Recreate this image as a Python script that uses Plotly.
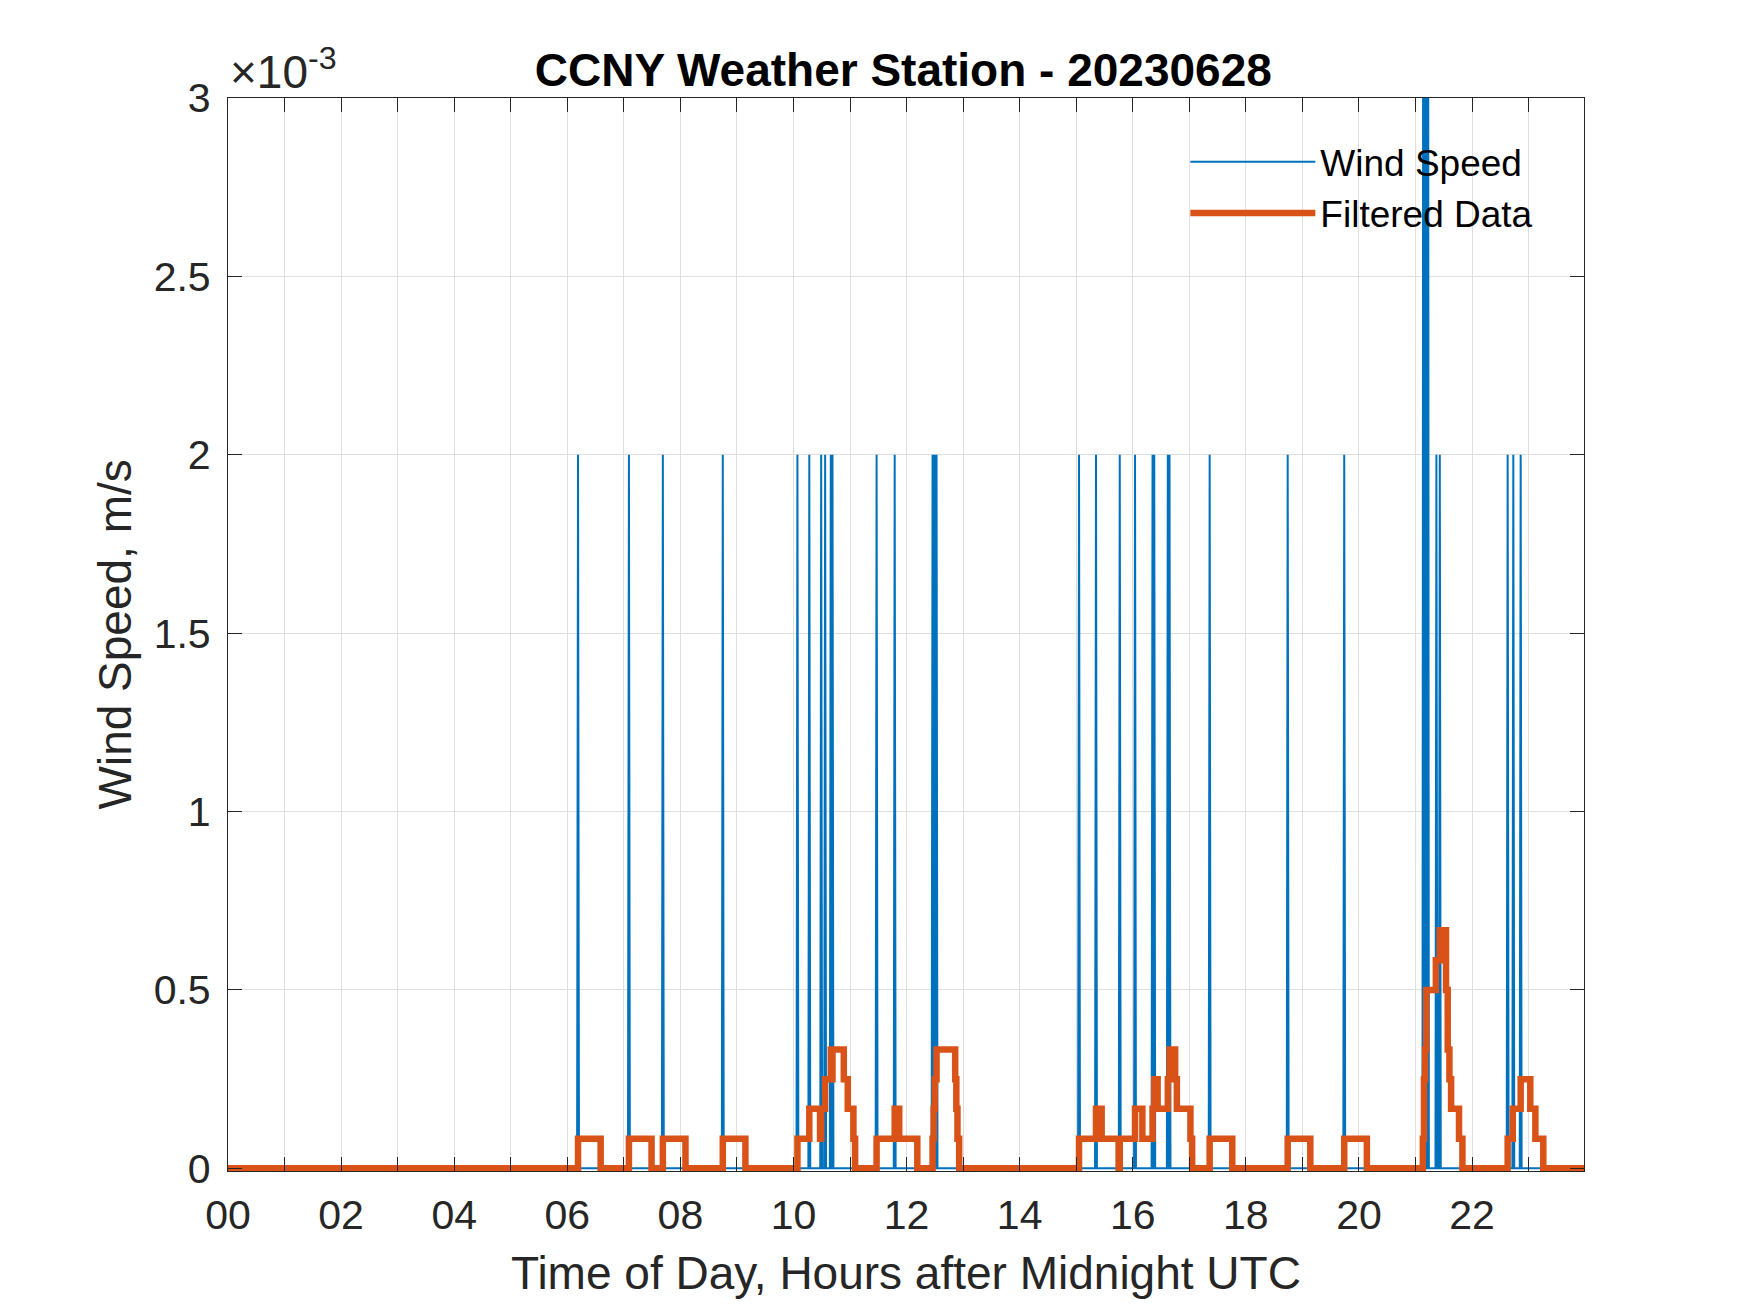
import plotly.graph_objects as go

# raw wind speed spikes (hours after midnight, m/s); zero everywhere else
spike_times = [6.19, 7.09, 7.69, 8.75, 10.07, 10.28, 10.49, 10.56, 10.66, 10.69,
               11.47, 11.79, 12.46, 12.48, 12.50, 12.53, 15.05, 15.35, 15.77, 16.04,
               16.35, 16.38, 16.62, 16.65, 17.36, 18.74, 19.74, 21.14, 21.16, 21.18,
               21.20, 21.22, 21.37, 21.43, 22.63, 22.73, 22.86]
spike_values = [0.002] * 27 + [0.0045, 0.0045, 0.0045, 0.0045, 0.0045] + [0.002] * 5

# filtered data, level changes (hours, m/s)
filt_times = [0.0, 6.19, 6.59, 7.09, 7.49, 7.69, 8.09, 8.75, 9.15,
              10.07, 10.28, 10.47, 10.49, 10.56, 10.66, 10.68, 10.69, 10.89, 10.96, 11.06, 11.09,
              11.47, 11.79, 11.87, 12.19,
              12.46, 12.48, 12.50, 12.53, 12.86, 12.88, 12.90, 12.93,
              15.05, 15.35, 15.45, 15.75, 15.77, 16.04, 16.17, 16.35, 16.38, 16.44,
              16.62, 16.65, 16.75, 16.78, 17.02, 17.05,
              17.36, 17.76, 18.74, 19.14, 19.74, 20.14,
              21.13, 21.15, 21.17, 21.19, 21.36, 21.43, 21.54, 21.57, 21.60, 21.63, 21.77, 21.83,
              22.63, 22.72, 22.86, 23.03, 23.12, 23.26, 23.98]
filt_values = [0, 0.083e-3, 0, 0.083e-3, 0, 0.083e-3, 0, 0.083e-3, 0,
               0.083e-3, 0.167e-3, 0.083e-3, 0.167e-3, 0.25e-3, 0.333e-3, 0.25e-3, 0.333e-3, 0.25e-3, 0.167e-3, 0.083e-3, 0,
               0.083e-3, 0.167e-3, 0.083e-3, 0,
               0.083e-3, 0.167e-3, 0.25e-3, 0.333e-3, 0.25e-3, 0.167e-3, 0.083e-3, 0,
               0.083e-3, 0.167e-3, 0.083e-3, 0, 0.083e-3, 0.167e-3, 0.083e-3, 0.167e-3, 0.25e-3, 0.167e-3,
               0.25e-3, 0.333e-3, 0.25e-3, 0.167e-3, 0.083e-3, 0,
               0.083e-3, 0, 0.083e-3, 0, 0.083e-3, 0,
               0.083e-3, 0.25e-3, 0.333e-3, 0.5e-3, 0.583e-3, 0.667e-3, 0.5e-3, 0.333e-3, 0.25e-3, 0.167e-3, 0.083e-3, 0,
               0.083e-3, 0.167e-3, 0.25e-3, 0.167e-3, 0.083e-3, 0, 0]

hour_ticks = list(range(0, 24, 2))
hour_labels = ["%02d" % h for h in hour_ticks]
minor_hours = list(range(1, 24, 2))
y_ticks = [0, 0.0005, 0.001, 0.0015, 0.002, 0.0025, 0.003]
y_labels = ["0", "0.5", "1", "1.5", "2", "2.5", "3"]

# build the per-minute raw line: zero baseline with a one-minute spike at each reading
step = 1 / 60
wx, wy = [0.0], [0.0]
for t, v in zip(spike_times, spike_values):
    wx += [t - step, t, t + step]
    wy += [0, v, 0]
wx.append(23.98)
wy.append(0)

font = "Liberation Sans, Arial, Helvetica, sans-serif"
ink = "#262626"
grid = "#DFDFDF"

fig = go.Figure()
fig.add_trace(go.Scatter(x=wx, y=wy, mode="lines", name="Wind Speed",
                         line=dict(color="#0072BD", width=2)))
fig.add_trace(go.Scatter(x=filt_times, y=filt_values, mode="lines", name="Filtered Data",
                         line=dict(color="#D95319", width=6.5, shape="hv")))

axis_common = dict(showline=True, linecolor=ink, linewidth=1.3, mirror="ticks",
                   ticks="inside", ticklen=14, tickwidth=1.3, tickcolor=ink,
                   showgrid=True, gridcolor=grid, gridwidth=1.3, zeroline=False,
                   tickfont=dict(family=font, size=41, color=ink))

fig.update_xaxes(range=[0, 23.98], tickvals=hour_ticks, ticktext=hour_labels,
                 ticklabelstandoff=8,
                 minor=dict(tickvals=minor_hours, ticks="inside", ticklen=14, tickwidth=1.3,
                            tickcolor=ink, showgrid=True, gridcolor=grid, gridwidth=1.3),
                 **axis_common)
fig.update_yaxes(range=[-0.0000075, 0.003], tickvals=y_ticks, ticktext=y_labels,
                 ticklabelstandoff=8, **axis_common)

fig.update_layout(
    width=1750, height=1313,
    margin=dict(l=220, r=174, t=90, b=150, autoexpand=False),
    paper_bgcolor="white", plot_bgcolor="white",
    title=dict(text="<b>CCNY Weather Station - 20230628</b>", x=0.5116, xanchor="center",
               y=1 - 62 / 1313, yanchor="middle",
               font=dict(family=font, size=46, color="black")),
    legend=dict(x=0.706, xanchor="left", y=0.969, yanchor="top",
                bgcolor="rgba(0,0,0,0)", borderwidth=0, itemwidth=125,
                font=dict(family=font, size=37, color="black")),
    annotations=[
        dict(text="Time of Day, Hours after Midnight UTC", xref="paper", yref="paper",
             x=0.5, y=0, xanchor="center", yanchor="middle", yshift=-102, showarrow=False,
             font=dict(family=font, size=46, color=ink)),
        dict(text="Wind Speed, m/s", xref="paper", yref="paper", x=0, y=0.5,
             xanchor="center", yanchor="middle", xshift=-114, textangle=-90, showarrow=False,
             font=dict(family=font, size=46, color=ink)),
        dict(text="×10<sup>-3</sup>", xref="paper", yref="paper", x=0, y=1,
             xanchor="left", yanchor="bottom", xshift=0, yshift=-2, showarrow=False,
             font=dict(family=font, size=46, color=ink)),
    ],
    showlegend=True,
)

fig.write_html("out.html")
